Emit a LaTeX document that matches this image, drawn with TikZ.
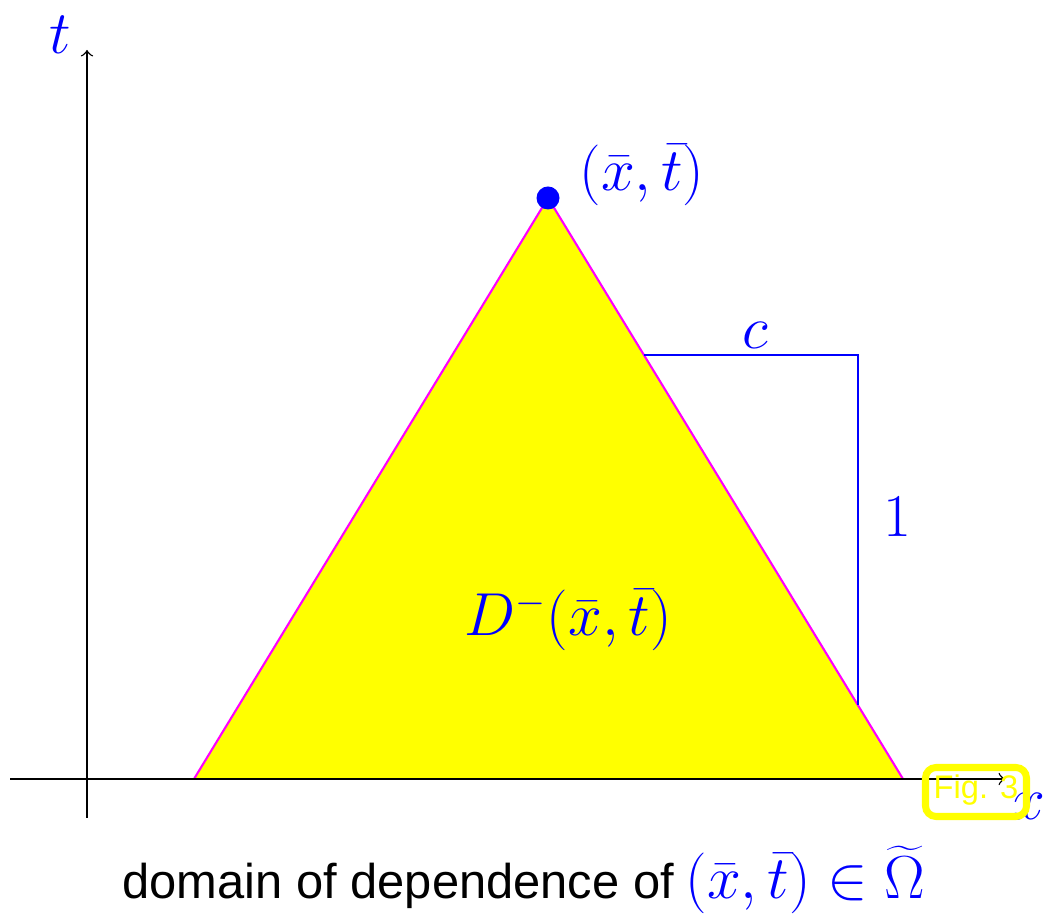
\documentclass[tikz,border=0pt]{standalone}
\usepackage{fontspec}
\usetikzlibrary{calc}
\newfontfamily\helv{Liberation Sans}
\definecolor{domyellow}{RGB}{255,255,0}
\definecolor{conemagenta}{RGB}{255,0,255}
\definecolor{lblblue}{RGB}{0,0,255}
\begin{document}
\begin{tikzpicture}[lbl/.style={text=lblblue,font=\fontsize{16}{19}\selectfont}]
  \useasboundingbox (0,0) rectangle (10.5,9.15);
  \coordinate (apex) at (5.48,7.17);
  \coordinate (bl) at (1.94,1.36);
  \coordinate (br) at (9.03,1.36);
  \fill[domyellow] (bl)--(apex)--(br)--cycle;
  \draw[conemagenta,semithick] (bl)--(apex)--(br);
  \draw[->] (0.10,1.36)--(10.05,1.36);
  \draw[->] (0.87,0.97)--(0.87,8.65);
  \node[lbl] (tlab) at (0.60,8.80) {$t$};
  \node[lbl] (xlab) at (10.28,1.09) {$x$};
  % slope triangle c : 1
  \coordinate (s1) at ($(apex)!0.27!(br)$);
  \coordinate (s3) at ($(apex)!0.873!(br)$);
  \coordinate (s2) at (s3 |- s1);
  \draw[lblblue] (s1)--(s2)--(s3);
  \node[lbl] (clab) at (7.55,5.80) {$c$};
  \node[lbl] (onelab) at (8.97,3.98) {$1$};
  \fill[lblblue] (apex) circle (0.115);
  \node[lbl] (ptlab) at (6.42,7.40) {$(\bar x,\bar t)$};
  \node[lbl] (dlab) at (5.68,2.95) {$D^-(\bar x,\bar t)$};
  \node (cap) at (5.24,0.35)
    {{\helv\fontsize{13.9}{17}\selectfont domain of dependence of}
     {\fontsize{16}{19}\selectfont\textcolor{lblblue}{$(\bar x,\bar t)\in\widetilde\Omega$}}};
  \draw[domyellow,line width=2pt,rounded corners=3pt] (9.255,0.985) rectangle (10.265,1.475);
  \node[text=domyellow,font=\helv\fontsize{9.3}{11}\selectfont] (fig) at (9.76,1.25) {Fig. 3};
\end{tikzpicture}
\end{document}
